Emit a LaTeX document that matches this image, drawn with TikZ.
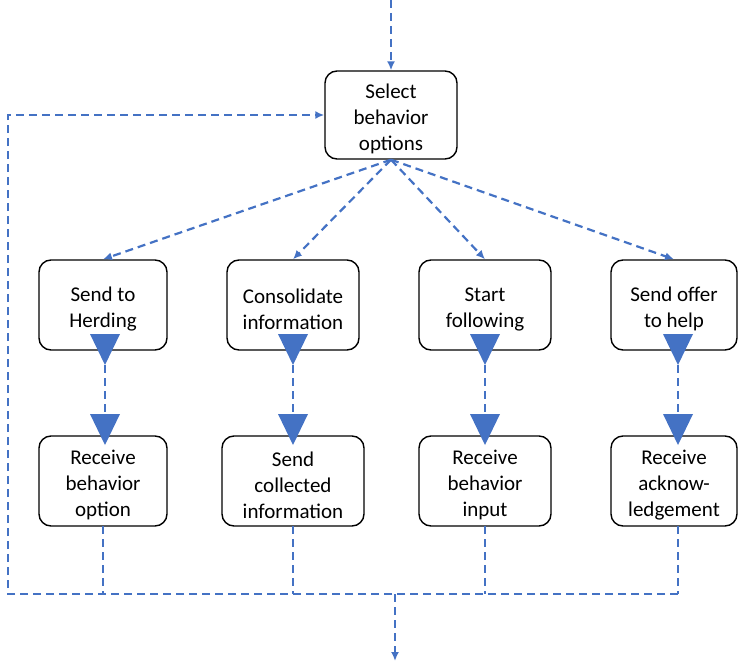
\documentclass[tikz,border=0pt]{standalone}
\usepackage{fontspec}
\setmainfont{Carlito}
\usetikzlibrary{arrows.meta,calc}
\definecolor{flowblue}{HTML}{4472C4}
% taller first line, so that the text sits a little lower in its box
\newcommand\boxlift{\rule{0pt}{23pt}}
\begin{document}
\begin{tikzpicture}[x=1pt,y=-1pt,
  box/.style={draw=black,line width=1.4pt,rounded corners=12pt,align=center,
    font=\fontsize{21}{26}\selectfont,inner sep=0pt,minimum height=90pt},
  flow/.style={draw=flowblue,line width=2.2pt,dash pattern=on 8pt off 5pt},
  tip/.style={-{Latex[length=9pt,width=8pt]}},
  bigtri/.style={fill=flowblue,draw=none}]
\useasboundingbox (0,0) rectangle (738,666);

% decision box
\node[box,minimum width=132pt,minimum height=88pt] (sel) at (391,115) {\boxlift Select\\behavior\\options};

% first row of actions
\node[box,minimum width=128pt] (a1) at (103,305) {\boxlift Send to\\Herding};
\node[box,minimum width=132pt] (a2) at (293,305) {\boxlift Consolidate\\information};
\node[box,minimum width=132pt] (a3) at (485,305) {\boxlift Start\\following};
\node[box,minimum width=126pt] (a4) at (674,305) {\boxlift Send offer\\to help};

% second row of actions
\node[box,minimum width=128pt] (b1) at (103,481) {\boxlift Receive\\behavior\\option};
\node[box,minimum width=142pt] (b2) at (293,481) {\boxlift Send\\collected\\information};
\node[box,minimum width=132pt] (b3) at (485,481) {\boxlift Receive\\behavior\\input};
\node[box,minimum width=126pt] (b4) at (674,481) {\boxlift Receive\\acknow-\\ledgement};

% entry and exit points
\coordinate (top) at (391,0);
\coordinate (busL) at (8,594);
\coordinate (busM) at (395,594);
\coordinate (busR) at (678,594);
\coordinate (out) at (395,661);

\draw[flow,tip] (top) -- (sel.north);
\foreach \n in {1,2,3,4}
  \draw[flow,tip] (sel.south) -- (a\n.north);

% hand-over between the two rows
\foreach \n/\x in {1/105,2/293,3/485,4/678} {
  \coordinate (t\n) at (\x,365);
  \coordinate (u\n) at (\x,414);
  \fill[bigtri] ($(t\n)+(-15,-31)$) -- ($(t\n)+(15,-31)$) -- (t\n) -- cycle;
  \fill[bigtri] ($(u\n)+(-15,0)$) -- ($(u\n)+(15,0)$) -- ($(u\n)+(0,31)$) -- cycle;
  \draw[flow] (t\n) -- (u\n);
}

% collecting bus and feedback loop
\foreach \n/\x in {1/103,2/293,3/485,4/678}
  \draw[flow] (\x,526) -- (\x,594);
\draw[flow,tip] (busR) -- (busL) |- (sel.west);
\draw[flow,tip] (busM) -- (out);
\end{tikzpicture}
\end{document}
